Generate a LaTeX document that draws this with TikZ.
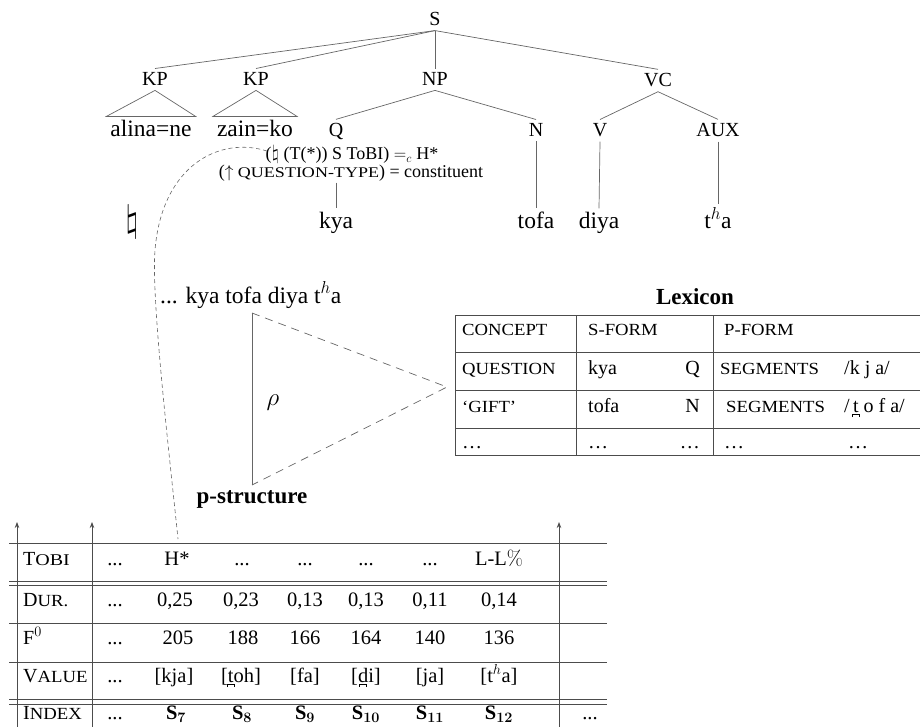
\documentclass[tikz,border=0pt]{standalone}
\usepackage[no-math]{fontspec}
\setmainfont{Liberation Serif}
\newfontfamily\scfam{Liberation Serif}[FakeStretch=1.1]
\newfontfamily\scfamw{Liberation Serif}[FakeStretch=1.22]
\usetikzlibrary{arrows.meta,calc}
\makeatletter
% faked small capitals: stretched capitals at a reduced size
\newcommand\fsc[1]{{\scfam\fontsize{\fpeval{0.85*\f@size}}{\f@baselineskip}\selectfont #1}}
\newcommand\fscw[1]{{\scfamw\fontsize{\fpeval{0.82*\f@size}}{\f@baselineskip}\selectfont #1}}
\makeatother
\newcommand\sz[1]{\fontsize{#1}{#1}\selectfont}
\newcommand\dd{...}
% dental diacritic (bridge below)
\newcommand\bridge{\hbox{\rule[-0.55ex]{0.05em}{0.3ex}\rule[-0.29ex]{0.3em}{0.05em}\rule[-0.55ex]{0.05em}{0.3ex}}}
\newcommand\dent[1]{\ooalign{#1\cr\hidewidth\bridge\hidewidth\cr}}
\begin{document}
\begin{tikzpicture}[x=1pt,y=-1pt,
  lab/.style={font=\sz{20}, inner sep=4.2pt, anchor=base},
  word/.style={font=\sz{23.5}, inner sep=4pt, anchor=base},
  ann/.style={font=\sz{18}, inner sep=0.5pt, anchor=base},
  edge/.style={draw=black!60, line width=0.7pt},
  tab/.style={draw=black!70, line width=0.8pt},
  lx/.style={font=\sz{20}, inner sep=0pt, anchor=base west},
  lxr/.style={font=\sz{20}, inner sep=0pt, anchor=base east},
  cell/.style={font=\sz{20.5}, inner sep=0pt, anchor=base},
  rowlab/.style={font=\sz{20}, inner sep=0pt, anchor=base west},
  head/.style={font=\sz{23}\bfseries, inner sep=0pt, anchor=base}]
\useasboundingbox (0,0) rectangle (920,727);

% ---------- c-structure tree ----------
\node[lab] (S)   at (435,26)  {S};
\node[lab] (KPa) at (155,86)  {KP};
\node[lab] (KPb) at (256,86)  {KP};
\node[lab] (NP)  at (435,86)  {NP};
\node[lab] (VC)  at (658,87)  {VC};
\node[lab] (Q)   at (336,137) {Q};
\node[lab] (N)   at (536,137) {N};
\node[lab] (V)   at (600,137) {V};
\node[lab] (AUX) at (718,137) {AUX};

\node[word] (alina) at (151,137) {alina=ne};
\node[word] (zain)  at (255,137) {zain=ko};

\node[ann] (ann1) at (352,160) {(\scalebox{1.15}{$\natural$} (T(*)) S ToBI) $=_{c}$ H*};
\node[ann] (ann2) at (351,178) {($\uparrow$ \fscw{QUESTION-TYPE}) = constituent};

\node[word] (kya)  at (336,229) {kya};
\node[word] (tofa) at (536,229) {tofa};
\node[word] (diya) at (599,229) {diya};
\node[word] (tha)  at (718,229) {t$^{h}$a};

\draw[edge] (S.south) -- (KPa.north);
\draw[edge] (S.south) -- (KPb.north);
\draw[edge] (S.south) -- (NP.north);
\draw[edge] (S.south) -- (VC.north);
\draw[edge] (KPa.south) -- (alina.north west) -- (alina.north east) -- cycle;
\draw[edge] (KPb.south) -- (zain.north west) -- (zain.north east) -- cycle;
\draw[edge] (NP.south) -- (Q.north);
\draw[edge] (NP.south) -- (N.north);
\draw[edge] (VC.south) -- (V.north);
\draw[edge] (VC.south) -- (AUX.north);
\draw[edge] (kya.north |- ann2.south) -- (kya.north);
\draw[edge] (N.south) -- (tofa.north);
\draw[edge] (V.south) -- (diya.north);
\draw[edge] (AUX.south) -- (tha.north);

\node[font=\sz{24}, inner sep=0pt] (nat) at (132,222) {\scalebox{1.5}{$\natural$}};

% ---------- string, projection rho, lexicon ----------
\node[word, anchor=base west, inner sep=0pt] (string) at (160,303) {\dd{} kya tofa diya t$^{h}$a};

\coordinate (ttop) at (252,313);
\coordinate (tbot) at (252,485);
\coordinate (ttip) at (447,387);
\draw[edge] (ttop) -- (tbot);
\draw[edge, dash pattern=on 8pt off 6pt] (ttop) -- (ttip) -- (tbot);
\node[font=\sz{23}, inner sep=0pt] (rho) at (273,403) {$\rho$};
\node[head] (pstr) at (252,503) {p-structure};

\node[head] (lexT) at (695,304) {Lexicon};
\foreach \y in {315,352,390,428,455} \draw[tab] (455,\y) -- (920,\y);
\foreach \x in {455,576,713} \draw[tab] (\x,315) -- (\x,455);

\node[lx] (lc1) at (462,335) {\fsc{CONCEPT}};
\node[lx] (ls1) at (588,335) {\fsc{S-FORM}};
\node[lx] (lp1) at (724,335) {\fsc{P-FORM}};

\node[lx]  (lc2) at (462,374) {\fsc{QUESTION}};
\node[lx]  (ls2) at (588,374) {kya};
\node[lxr] (lt2) at (700,374) {Q};
\node[lx]  (lp2) at (720,374) {\fsc{SEGMENTS}};
\node[lx]  (lv2) at (844,374) {/k j a/};

\node[lx]  (lc3) at (462,412) {\fsc{‘GIFT’}};
\node[lx]  (ls3) at (588,412) {tofa};
\node[lxr] (lt3) at (700,412) {N};
\node[lx]  (lp3) at (726,412) {\fsc{SEGMENTS}};
\node[lx]  (lv3) at (844,412) {/\,\dent{t} o f a/};

\node[lx]  (lc4) at (462,448) {\dots};
\node[lx]  (ls4) at (588,448) {\dots};
\node[lxr] (lt4) at (700,448) {\dots};
\node[lx]  (lp4) at (724,448) {\dots};
\node[lx]  (lv4) at (848,448) {\dots};

% ---------- p-structure table ----------
\foreach \y in {543,581,585,623,662,699,704} \draw[tab] (9,\y) -- (607,\y);
\foreach \x in {17,92,559}
  \draw[tab, -{Stealth[length=6pt,width=4.5pt]}] (\x,727) -- (\x,522);

\node[rowlab] (rT) at (23,565) {T\fscw{OBI}};
\node[rowlab] (rD) at (23,606) {D\fsc{UR.}};
\node[rowlab] (rF) at (23,644) {F$^{0}$};
\node[rowlab] (rV) at (23,682) {V\fsc{ALUE}};
\node[rowlab] (rI) at (23,719) {I\fsc{NDEX}};

\foreach \x/\t [count=\i] in {115/\dd, 177/H*, 242/\dd, 305/\dd, 366/\dd, 430/\dd, 499/L-L$\%$}
  \node[cell] (tb\i) at (\x,565) {\t};
\foreach \x/\t [count=\i] in {115/\dd, 175/{0,25}, 241/{0,23}, 305/{0,13}, 366/{0,13}, 430/{0,11}, 499/{0,14}}
  \node[cell] (du\i) at (\x,606) {\t};
\foreach \x/\t [count=\i] in {115/\dd, 178/205, 243/188, 305/166, 366/164, 430/140, 499/136}
  \node[cell] (fz\i) at (\x,644) {\t};
\foreach \x/\t [count=\i] in {115/\dd, 174/{[kja]}, 241/{[\dent{t}oh]}, 305/{[fa]}, 366/{[\dent{d}i]}, 430/{[ja]}, 499/{[t$^{h}$a]}}
  \node[cell] (va\i) at (\x,682) {\t};
\node[cell] (ix1) at (115,719) {\dd};
\foreach \x/\t [count=\i from 2] in {176/7, 242/8, 305/9, 366/10, 430/11, 499/12}
  \node[cell] (ix\i) at (\x,719) {\textbf{S}$_{\mathbf{\t}}$};
\node[cell] (ixend) at (590,719) {\dd};

% association line from the constraint to the H* tone
\coordinate (hook) at (178,539);
\draw[draw=black!60, line width=0.6pt, dash pattern=on 4pt off 3pt]
  ($(ann1.west)+(2,-4)$) .. controls (220,136) and (162,165) .. (155,250)
  .. controls (151,300) and (170,460) .. (hook);
\end{tikzpicture}
\end{document}
